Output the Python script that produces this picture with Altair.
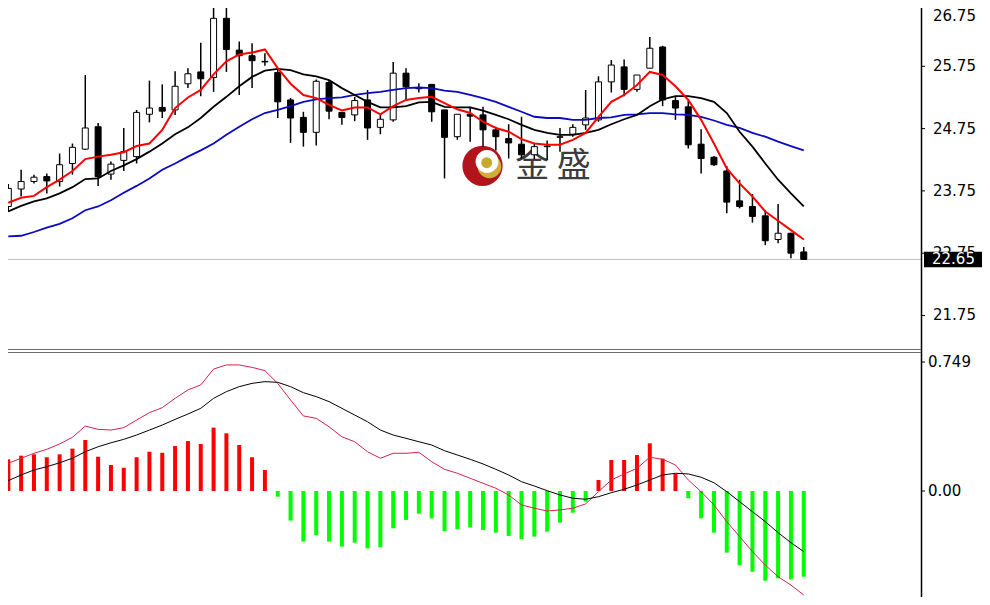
import altair as alt
import pandas as pd

# ---------------- data ----------------
candle_index = list(range(63))
opens = [23.50, 23.78, 23.90, 23.98, 23.90, 24.19, 24.42, 24.78, 24.02, 24.24,
         24.30, 24.98, 25.09, 25.05, 25.47, 25.66, 25.57, 26.52, 26.01, 25.92,
         25.83, 25.65, 25.21, 24.93, 24.69, 25.49, 25.01, 24.97, 25.21, 24.77,
         24.89, 25.64, 25.41, 25.46, 25.05, 24.62, 24.98, 24.97, 24.73, 24.59,
         24.50, 24.33, 24.46, 24.61, 24.66, 24.81, 24.89, 25.50, 25.74, 25.38,
         25.72, 26.06, 25.20, 25.10, 24.50, 24.29, 24.07, 23.59, 23.50, 23.35,
         22.97, 23.07, 22.77]
highs = [23.86, 24.09, 24.01, 24.03, 24.35, 24.51, 25.61, 24.84, 24.22, 24.76,
         25.05, 25.52, 25.46, 25.67, 25.72, 26.13, 26.86, 26.86, 26.15, 26.12,
         25.96, 25.72, 25.24, 25.02, 25.54, 25.53, 25.01, 25.26, 25.37, 24.97,
         25.82, 25.72, 25.48, 25.46, 25.05, 24.98, 25.10, 25.10, 24.78, 24.82,
         24.94, 24.51, 24.56, 24.76, 24.82, 25.37, 25.59, 25.85, 25.86, 25.61,
         26.22, 26.08, 25.26, 25.20, 24.74, 24.31, 24.15, 23.93, 23.70, 23.44,
         23.54, 23.08, 22.85]
lows = [23.41, 23.66, 23.87, 23.71, 23.82, 24.01, 24.41, 23.83, 23.93, 24.07,
        24.19, 24.85, 24.92, 24.97, 25.40, 25.27, 25.34, 25.66, 25.29, 25.40,
        25.76, 24.92, 24.52, 24.46, 24.48, 24.90, 24.81, 24.87, 24.57, 24.66,
        24.86, 25.21, 25.33, 24.86, 23.95, 24.57, 24.54, 24.46, 24.40, 24.27,
        24.27, 24.26, 24.25, 24.38, 24.62, 24.73, 24.86, 25.33, 25.27, 25.34,
        25.72, 25.11, 24.89, 24.43, 24.03, 24.15, 23.39, 23.47, 23.24, 22.88,
        22.91, 22.67, 22.64]
closes = [23.79, 23.90, 23.97, 23.91, 24.17, 24.45, 24.76, 23.98, 24.18, 24.38,
          25.01, 25.08, 25.03, 25.43, 25.63, 25.55, 26.52, 26.02, 25.92, 25.84,
          25.82, 25.18, 24.92, 24.69, 25.51, 25.03, 24.93, 25.20, 24.76, 24.90,
          25.64, 25.42, 25.39, 25.02, 24.61, 24.98, 24.95, 24.73, 24.62, 24.52,
          24.33, 24.46, 24.47, 24.62, 24.77, 24.92, 25.50, 25.77, 25.38, 25.61,
          26.04, 25.21, 25.08, 24.49, 24.27, 24.17, 23.57, 23.50, 23.34, 22.95,
          23.07, 22.75, 22.65]
ma_fast = [23.56, 23.64, 23.67, 23.81, 23.93, 24.07, 24.26, 24.30, 24.33, 24.37,
           24.47, 24.51, 24.73, 25.08, 25.25, 25.37, 25.62, 25.83, 25.94, 25.97,
           26.02, 25.72, 25.47, 25.29, 25.24, 25.13, 25.04, 25.09, 25.09, 24.98,
           25.11, 25.21, 25.24, 25.26, 25.16, 25.06, 25.00, 24.86, 24.76, 24.70,
           24.58, 24.51, 24.49, 24.49, 24.57, 24.68, 24.94, 25.18, 25.29, 25.45,
           25.66, 25.61, 25.43, 25.21, 24.89, 24.51, 24.11, 23.87, 23.66, 23.42,
           23.27, 23.12, 22.97]
ma_mid = [23.42, 23.51, 23.58, 23.63, 23.71, 23.81, 23.94, 23.95, 24.07, 24.16,
          24.26, 24.38, 24.51, 24.66, 24.77, 24.92, 25.10, 25.26, 25.43, 25.58,
          25.68, 25.71, 25.69, 25.62, 25.59, 25.53, 25.40, 25.29, 25.18, 25.09,
          25.09, 25.11, 25.17, 25.18, 25.10, 25.09, 25.09, 25.04, 24.97, 24.90,
          24.81, 24.73, 24.68, 24.65, 24.65, 24.68, 24.73, 24.82, 24.90, 24.97,
          25.11, 25.22, 25.27, 25.27, 25.24, 25.18, 25.00, 24.70, 24.46, 24.19,
          23.93, 23.71, 23.50]
ma_slow = [23.02, 23.03, 23.09, 23.16, 23.22, 23.31, 23.44, 23.50, 23.60, 23.72,
           23.83, 23.95, 24.09, 24.19, 24.30, 24.40, 24.51, 24.65, 24.78, 24.90,
           25.00, 25.05, 25.11, 25.18, 25.22, 25.24, 25.25, 25.29, 25.32, 25.34,
           25.37, 25.40, 25.41, 25.40, 25.36, 25.34, 25.29, 25.24, 25.18, 25.10,
           25.02, 24.94, 24.92, 24.92, 24.89, 24.89, 24.92, 24.93, 24.97, 24.98,
           25.00, 25.00, 24.98, 24.97, 24.94, 24.88, 24.81, 24.76, 24.68, 24.62,
           24.54, 24.47, 24.40]
macd_hist = [0.184, 0.205, 0.213, 0.196, 0.213, 0.246, 0.296, 0.199, 0.151, 0.135,
             0.196, 0.228, 0.222, 0.261, 0.290, 0.273, 0.368, 0.335, 0.267, 0.196,
             0.122, -0.033, -0.172, -0.294, -0.256, -0.294, -0.323, -0.300, -0.333, -0.327,
             -0.217, -0.168, -0.132, -0.159, -0.232, -0.221, -0.211, -0.226, -0.242, -0.261,
             -0.280, -0.265, -0.236, -0.184, -0.126, -0.062, 0.064, 0.180, 0.180, 0.209,
             0.277, 0.188, 0.099, -0.042, -0.159, -0.242, -0.358, -0.430, -0.469, -0.521,
             -0.507, -0.513, -0.498]
macd_dif = [0.161, 0.190, 0.219, 0.242, 0.273, 0.312, 0.377, 0.358, 0.354, 0.368,
            0.412, 0.455, 0.484, 0.538, 0.587, 0.616, 0.708, 0.732, 0.732, 0.718,
            0.699, 0.625, 0.528, 0.436, 0.422, 0.373, 0.315, 0.286, 0.228, 0.190,
            0.219, 0.219, 0.225, 0.170, 0.126, 0.103, 0.074, 0.045, 0.016, -0.023,
            -0.081, -0.100, -0.116, -0.110, -0.100, -0.075, -0.004, 0.064, 0.099, 0.132,
            0.196, 0.184, 0.151, 0.064, -0.004, -0.081, -0.178, -0.265, -0.352, -0.430,
            -0.498, -0.546, -0.604]
macd_dea = [0.060, 0.093, 0.122, 0.141, 0.164, 0.190, 0.228, 0.257, 0.280, 0.300,
            0.325, 0.354, 0.383, 0.416, 0.447, 0.480, 0.538, 0.577, 0.606, 0.625,
            0.635, 0.631, 0.606, 0.571, 0.548, 0.519, 0.480, 0.441, 0.402, 0.354,
            0.325, 0.306, 0.286, 0.267, 0.234, 0.209, 0.184, 0.157, 0.126, 0.093,
            0.054, 0.029, 0.002, -0.023, -0.042, -0.048, -0.033, -0.010, 0.010, 0.035,
            0.064, 0.093, 0.103, 0.099, 0.080, 0.048, -0.004, -0.062, -0.120, -0.178,
            -0.242, -0.300, -0.352]

price_ticks = [21.75, 22.75, 23.75, 24.75, 25.75, 26.75]
price_labels = ["21.75", "22.75", "23.75", "24.75", "25.75", "26.75"]
macd_ticks = [0.749, 0.0]
macd_labels = ["0.749", "0.00"]
last_price = [22.65]
last_label = ["22.65"]
brand_text = "金 盛"

# ---------------- layout / scales ----------------
W, H = 913, 589
RIGHT = 61
FONT = "DejaVu Sans"
xs = alt.Scale(domain=[-0.0234, 71.138], nice=False, zero=False, padding=0)
ps = alt.Scale(domain=[21.212, 26.686], range=[341, 0], nice=False, zero=False)
ms = alt.Scale(domain=[-0.6156, 0.8072], range=[589, 344], nice=False, zero=False)
TOP_PRICE = ps.domain[1]

df = pd.DataFrame({
    "i": candle_index, "open": opens, "high": highs, "low": lows, "close": closes,
    "ma_fast": ma_fast, "ma_mid": ma_mid, "ma_slow": ma_slow,
    "hist": macd_hist, "dif": macd_dif, "dea": macd_dea,
})
base = alt.Chart(df)
X = alt.X("i:Q", scale=xs, axis=None)


def PY(f):
    return alt.Y(f, type="quantitative", scale=ps, axis=None)


def MY(f):
    return alt.Y(f, type="quantitative", scale=ms, axis=None)


one = alt.Chart(pd.DataFrame({"k": [0]}))

# watermark logo
logo_red = one.mark_circle(size=1620, color="#b3141c", opacity=1).encode(
    x=alt.value(474.5), y=alt.value(157.8))
logo_gold = one.mark_circle(size=560, color="#cfae3a", opacity=1).encode(
    x=alt.value(481.5), y=alt.value(158.5))
logo_white = one.mark_circle(size=520, color="white", opacity=1).encode(
    x=alt.value(479), y=alt.value(153.5))
logo_dot = one.mark_circle(size=120, color="#c9a82e", opacity=1).encode(
    x=alt.value(478.7), y=alt.value(154.7))
brand = one.mark_text(text=brand_text, font="Noto Sans CJK SC", fontSize=34,
                      color="#3c3c3c", align="center", baseline="middle").encode(
    x=alt.value(545), y=alt.value(158.5))

# candles
wicks = base.mark_rule(color="black", strokeWidth=1.5).encode(X, PY("low"), alt.Y2("high"))
up = base.transform_filter("datum.close >= datum.open").mark_bar(
    size=6, fill="white", stroke="black", strokeWidth=1).encode(X, PY("open"), alt.Y2("close"))
down = base.transform_filter("datum.close < datum.open").mark_bar(
    size=6, fill="black", stroke="black", strokeWidth=1).encode(X, PY("open"), alt.Y2("close"))

ma_s = base.mark_line(color="#0a0ac0", strokeWidth=1.8).encode(X, PY("ma_slow"))
ma_m = base.mark_line(color="black", strokeWidth=1.8).encode(X, PY("ma_mid"))
ma_f = base.mark_line(color="#ff0000", strokeWidth=2).encode(X, PY("ma_fast"))

# MACD panel
hist = base.mark_bar(size=4).encode(
    X, MY("hist"), alt.Y2Datum(0),
    color=alt.condition("datum.hist > 0", alt.value("#ff0000"), alt.value("#00ff00")))
dif = base.mark_line(color="#d8204e", strokeWidth=1).encode(X, MY("dif"))
dea = base.mark_line(color="black", strokeWidth=1).encode(X, MY("dea"))

# frame / axes
axis_line = one.mark_rule(color="black", strokeWidth=1.5).encode(x=alt.value(W + 0.5))
sep1 = one.mark_rule(color="#6a6a6a", strokeWidth=1).encode(y=alt.value(341.5))
sep2 = one.mark_rule(color="#6a6a6a", strokeWidth=1).encode(y=alt.value(344.5))

pt = alt.Chart(pd.DataFrame({"p": price_ticks, "label": price_labels}))
pt_ticks = pt.mark_rule(color="black", strokeWidth=1).encode(
    x=alt.value(W), x2=alt.value(W + 4), y=PY("p"))
pt_text = pt.transform_filter(f"datum.p < {TOP_PRICE}").mark_text(
    align="left", baseline="middle", dx=12, font=FONT, fontSize=15,
    color="black").encode(x=alt.value(W), y=PY("p"), text="label:N")
# top label sits at the very edge of the plot: keep it readable
pt_text_top = pt.transform_filter(f"datum.p >= {TOP_PRICE}").mark_text(
    align="left", baseline="middle", dx=12, dy=12, font=FONT, fontSize=15,
    color="black").encode(x=alt.value(W), y=PY("p"), text="label:N")

mt = alt.Chart(pd.DataFrame({"v": macd_ticks, "label": macd_labels}))
mt_ticks = mt.mark_rule(color="black", strokeWidth=1).encode(
    x=alt.value(W), x2=alt.value(W + 4), y=MY("v"))
mt_text = mt.mark_text(align="left", baseline="middle", dx=7, font=FONT, fontSize=15,
                       color="black").encode(x=alt.value(W), y=MY("v"), text="label:N")

lp = alt.Chart(pd.DataFrame({"p": last_price, "label": last_label}))
lp_rule = lp.mark_rule(color="#c0c0c0", strokeWidth=1).encode(y=PY("p"))
lp_box = lp.mark_point(shape="M-1,-0.267H1V0.267H-1Z", size=3364, filled=True,
                       color="black", opacity=1).encode(x=alt.value(W + 32), y=PY("p"))
lp_text = lp.mark_text(align="left", baseline="middle", dx=11, font=FONT, fontSize=15,
                       color="white").encode(x=alt.value(W), y=PY("p"), text="label:N")

chart = alt.layer(
    logo_red, logo_gold, logo_white, logo_dot, brand,
    lp_rule,
    wicks, up, down, ma_s, ma_m, ma_f,
    hist, dif, dea,
    axis_line, sep1, sep2,
    pt_ticks, pt_text, pt_text_top, mt_ticks, mt_text,
    lp_box, lp_text,
).resolve_scale(y="independent").properties(
    width=W, height=H,
    padding={"left": 0, "top": 0, "right": RIGHT, "bottom": 0},
    autosize=alt.AutoSizeParams(type="none"),
    background="white",
).configure_view(stroke=None)

chart.save("out.html", embed_options={"renderer": "svg", "actions": False})
